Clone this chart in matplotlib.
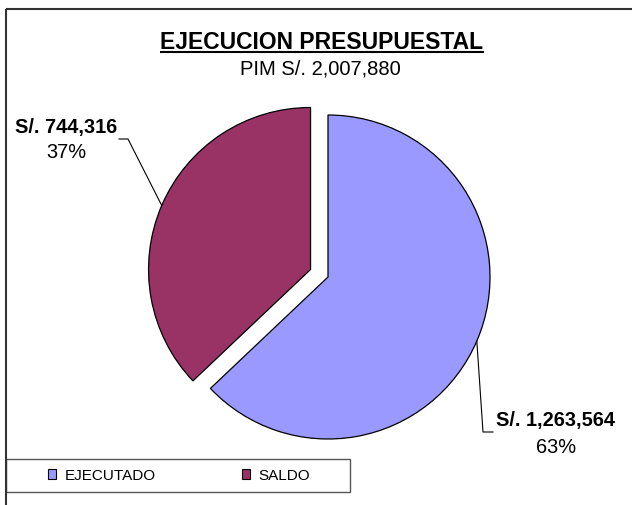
import math
import matplotlib
matplotlib.use('Agg')
import matplotlib.pyplot as plt
from matplotlib.patches import Rectangle

plt.rcParams['font.family'] = ['Liberation Sans', 'DejaVu Sans']

# datos
categorias = ['EJECUTADO', 'SALDO']
montos = [1263564, 744316]
pim = 2007880
colores = ['#9999FF', '#993366']
titulo = 'EJECUCION PRESUPUESTAL'
subtitulo = f'PIM S/. {pim:,}'

W, H = 632, 506


def py(y):
    # coordenada de pixel (desde arriba) a coordenada de datos
    return H - y


fig = plt.figure(figsize=(W / 100, H / 100), dpi=100)
ax = fig.add_axes([0, 0, 1, 1])

centro = (328, py(278))
radio = 162
separacion = 19

cunas, _ = ax.pie(montos, colors=colores, startangle=90, counterclock=False,
                  explode=[0, separacion], radius=radio, center=centro,
                  wedgeprops=dict(edgecolor='black', linewidth=0.9))

ax.set_xlim(0, W)
ax.set_ylim(0, H)
ax.set_aspect('equal')
ax.axis('off')

# marco del grafico (solo borde superior e izquierdo visibles)
ax.plot([6, W + 5], [py(10), py(10)], color='#333333', lw=1.5, solid_capstyle='butt')
ax.plot([6, 6], [py(10), -5], color='#333333', lw=1.5, solid_capstyle='butt')

# titulos
t = ax.text(322, py(42), titulo, ha='center', va='center', fontsize=16.5, fontweight='bold')
ax.text(320, py(69), subtitulo, ha='center', va='center', fontsize=14.5)
fig.canvas.draw()
bb = t.get_window_extent().transformed(ax.transData.inverted())
ax.plot([bb.x0, bb.x1], [py(52.5), py(52.5)], color='black', lw=1.5, solid_capstyle='butt')

# etiquetas con lineas guia
total = sum(montos)
pos_etiquetas = [(556, 421, 448), (66, 127, 153)]
guias = [[(483, 433), (493, 433)], [(128, 140), (119, 140)]]
for cuna, monto, (xe, y1, y2), guia in zip(cunas, montos, pos_etiquetas, guias):
    ang = math.radians((cuna.theta1 + cuna.theta2) / 2)
    cx, cy = cuna.center
    borde = (cx + radio * math.cos(ang), cy + radio * math.sin(ang))
    xs = [borde[0]] + [p[0] for p in guia]
    ys = [borde[1]] + [py(p[1]) for p in guia]
    ax.plot(xs, ys, color='black', lw=0.8)
    ax.text(xe, py(y1), f'S/. {monto:,}', ha='center', va='center',
            fontsize=14.4, fontweight='bold')
    ax.text(xe, py(y2), f'{round(100 * monto / total)}%', ha='center', va='center',
            fontsize=14.4)

# leyenda
ax.add_patch(Rectangle((6, py(493)), 344, 33, facecolor='white', edgecolor='#555555', lw=1))
ley = ax.legend(cunas, categorias, ncol=2, frameon=False, loc='center',
                bbox_to_anchor=(179, py(476.5)), bbox_transform=ax.transData,
                fontsize=11, handlelength=0.55, handleheight=0.55,
                handletextpad=0.55, columnspacing=5.6, borderpad=0, borderaxespad=0)
for h in ley.legend_handles:
    h.set_edgecolor('black')
    h.set_linewidth(0.8)

fig.savefig('out.png', dpi=100)
